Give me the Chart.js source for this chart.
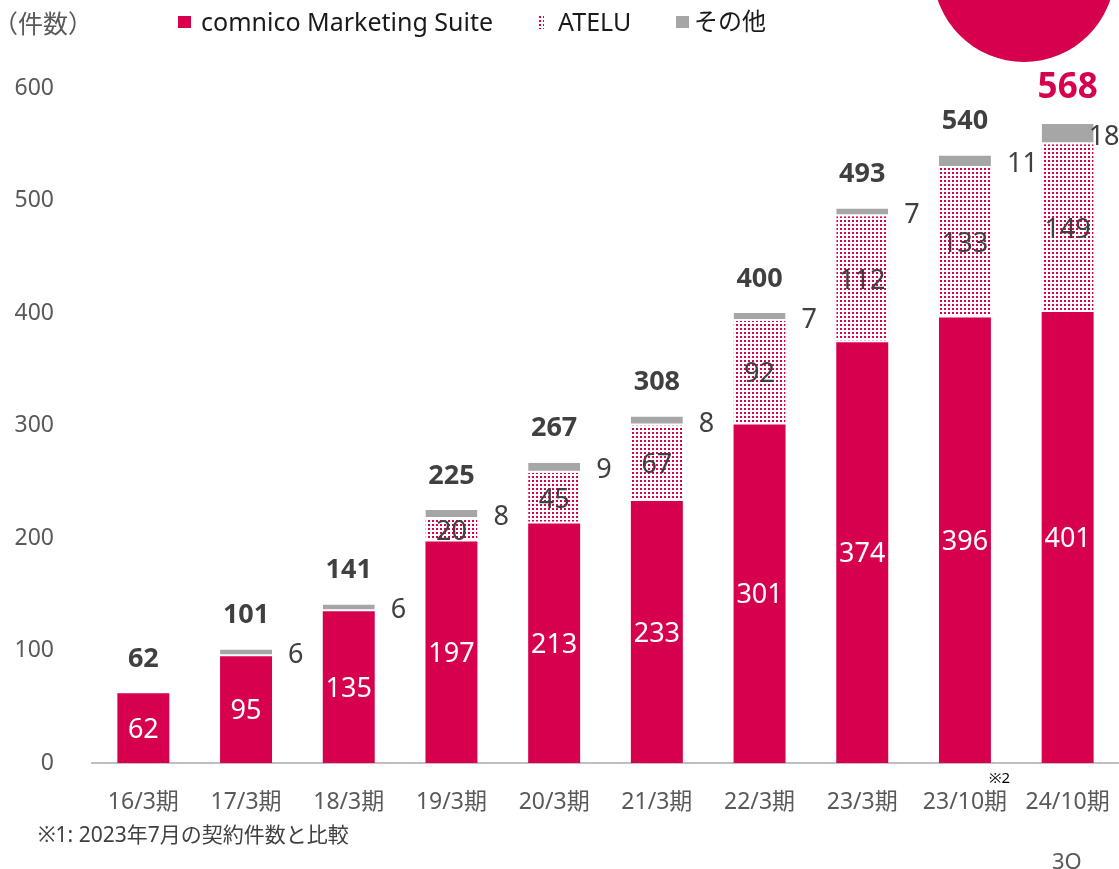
<!DOCTYPE html>
<html lang="ja">
<head>
<meta charset="utf-8">
<script src="https://cdn.jsdelivr.net/npm/chart.js@4.4.1/dist/chart.umd.min.js"></script>
<style>
  body { margin: 0; background: #fff; }
  #wrap { position: relative; width: 1119px; height: 869px; overflow: hidden;
    font-family: 'Noto Sans', 'Noto Sans CJK JP', sans-serif; }
  #wrap canvas { position: absolute; left: 0; top: 0; }
  .txt { position: absolute; line-height: 1; white-space: nowrap; }
  .box { position: absolute; width: 13px; height: 12px; }
  #badge { position: absolute; left: 933px; top: -120px; width: 182px; height: 182px;
    border-radius: 50%; background: #D7004F; }
</style>
</head>
<body>
<div id="wrap">
  <canvas id="contractChart" width="1119" height="869"></canvas>
  <div id="badge"></div>
  <div class="txt" style="left:-7px; top:11px; font-size:25px; color:#595959;">（件数）</div>
  <div class="box" style="left:178px; top:16px; background:#D7004F;"></div>
  <div class="txt" style="left:201px; top:9px; font-size:25px; color:#1a1a1a;">comnico Marketing Suite</div>
  <div class="box" style="left:538px; top:15px; width:6px; height:14px;
    background-image: radial-gradient(circle, #D7004F 1px, transparent 1.3px); background-size: 4px 4px;"></div>
  <div class="txt" style="left:558px; top:9px; font-size:25px; color:#1a1a1a;">ATELU</div>
  <div class="box" style="left:676px; top:16px; background:#A6A6A6;"></div>
  <div class="txt" style="left:694px; top:9px; font-size:24px; color:#1a1a1a;">その他</div>
  <div class="txt" style="left:989px; top:770px; font-size:15px; color:#000;">※2</div>
  <div class="txt" style="left:38px; top:824px; font-size:21px; color:#404040;">※1: 2023年7月の契約件数と比較</div>
  <div class="txt" style="left:1052px; top:849px; font-size:22px; color:#595959;">3Q</div>
</div>
<script>
// 契約件数の推移
const categories = ['16/3期', '17/3期', '18/3期', '19/3期', '20/3期', '21/3期', '22/3期', '23/3期', '23/10期', '24/10期'];
const marketingSuite = [62, 95, 135, 197, 213, 233, 301, 374, 396, 401];
const atelu = [0, 0, 0, 20, 45, 67, 92, 112, 133, 149];
const others = [0, 6, 6, 8, 9, 8, 7, 7, 11, 18];
const totals = [62, 101, 141, 225, 267, 308, 400, 493, 540, 568];
const yTicks = [0, 100, 200, 300, 400, 500, 600];

const PINK = '#D7004F';
const GRAY = '#A6A6A6';
const FONT = "'Noto Sans', 'Noto Sans CJK JP', sans-serif";

// dotted fill for ATELU
function dotPattern() {
  const c = document.createElement('canvas');
  c.width = 4; c.height = 4;
  const g = c.getContext('2d');
  g.fillStyle = '#fff';
  g.fillRect(0, 0, 4, 4);
  g.fillStyle = PINK;
  g.fillRect(0, 0, 2, 2);
  return g.createPattern(c, 'repeat');
}

const ctx = document.getElementById('contractChart').getContext('2d');

const barLabels = {
  id: 'barLabels',
  afterDatasetsDraw(chart) {
    const c = chart.ctx;
    const y = chart.scales.y;
    const ms = chart.getDatasetMeta(0).data;
    const at = chart.getDatasetMeta(1).data;
    const ot = chart.getDatasetMeta(2).data;
    c.save();
    c.textBaseline = 'middle';
    categories.forEach((cat, i) => {
      const last = i === categories.length - 1;
      c.font = '27px ' + FONT;
      c.textAlign = 'center';
      c.fillStyle = '#fff';
      c.fillText(marketingSuite[i], ms[i].x, (ms[i].y + ms[i].base) / 2 + 2);
      if (atelu[i]) {
        c.fillStyle = '#404040';
        c.fillText(atelu[i], at[i].x, (at[i].y + at[i].base) / 2 + 2);
      }
      if (others[i]) {
        c.textAlign = 'left';
        c.fillStyle = '#404040';
        c.fillText(others[i], ot[i].x + ot[i].width / 2 + (last ? -5 : 16), (ot[i].y + ot[i].base) / 2 + 3);
      }
      c.textAlign = 'center';
      c.fillStyle = last ? PINK : '#404040';
      c.font = last ? 'bold 35px ' + FONT : 'bold 27px ' + FONT;
      c.fillText(totals[i], ms[i].x, y.getPixelForValue(totals[i]) - (last ? 36 : 34));
    });
    c.restore();
  }
};

const contractChart = new Chart(ctx, {
  type: 'bar',
  data: {
    labels: categories,
    datasets: [
      {
        label: 'comnico Marketing Suite',
        data: marketingSuite,
        backgroundColor: PINK,
        borderWidth: 0
      },
      {
        label: 'ATELU',
        data: atelu,
        backgroundColor: dotPattern(),
        borderColor: '#fff',
        borderWidth: { top: 0, left: 0, right: 0, bottom: 2 },
        borderSkipped: false
      },
      {
        label: 'その他',
        data: others,
        backgroundColor: GRAY,
        borderColor: '#fff',
        borderWidth: { top: 0, left: 0, right: 0, bottom: 2 },
        borderSkipped: false
      }
    ]
  },
  options: {
    responsive: false,
    animation: false,
    layout: { padding: { top: 88, right: 0, bottom: 0, left: 0 } },
    datasets: { bar: { barPercentage: 0.506, categoryPercentage: 1 } },
    plugins: { legend: { display: false }, tooltip: { enabled: false } },
    scales: {
      x: {
        stacked: true,
        grid: { display: false },
        border: { display: true, color: '#BFBFBF', width: 2 },
        ticks: { color: '#595959', font: { size: 23, family: FONT }, padding: 18, maxRotation: 0, autoSkip: false },
        afterFit(s) { s.height = 106; s.paddingLeft = 0; s.paddingRight = 0; }
      },
      y: {
        stacked: true,
        min: 0,
        max: 600,
        grid: { display: false, drawTicks: false },
        border: { display: false },
        afterBuildTicks(s) { s.ticks = yTicks.map(v => ({ value: v })); },
        ticks: { color: '#595959', font: { size: 23, family: FONT }, padding: 38 },
        afterFit(s) { s.width = 92; }
      }
    }
  },
  plugins: [barLabels]
});
</script>
</body>
</html>
